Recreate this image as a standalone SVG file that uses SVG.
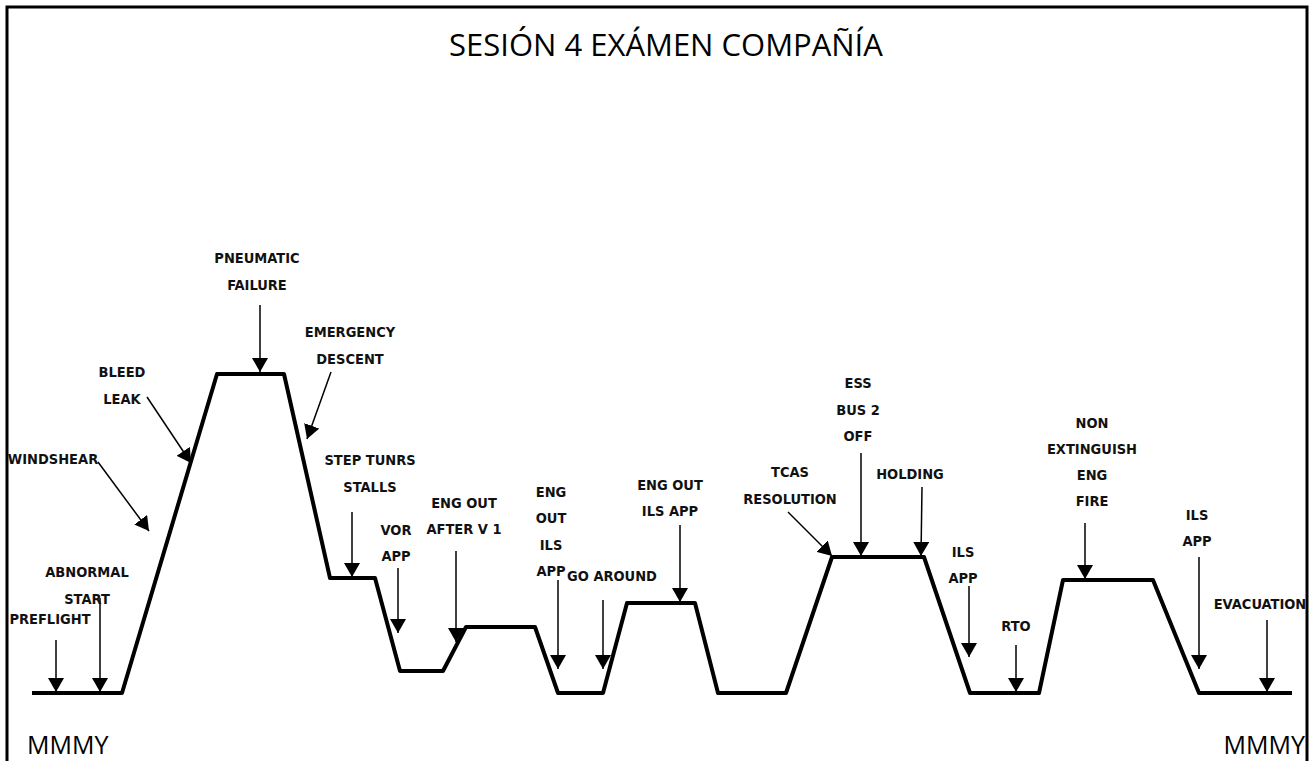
<svg xmlns="http://www.w3.org/2000/svg" width="1312" height="761" viewBox="0 0 1312 761">
<style>
.lbl{font-family:"DejaVu Sans Condensed","Liberation Sans",sans-serif;font-weight:bold;font-size:14.5px;fill:#111;text-anchor:middle}
.arr{stroke:#000;stroke-width:1.5;fill:none;marker-end:url(#ah)}
.prof{stroke:#000;stroke-width:4;fill:none;stroke-linejoin:round}
.big{font-family:"Open Sans","Noto Sans",sans-serif;fill:#000}
</style>
<defs>
<marker id="ah" viewBox="0 0 14 16" refX="14" refY="8" markerWidth="14" markerHeight="16" markerUnits="userSpaceOnUse" orient="auto">
<path d="M0,0 L14,8 L0,16 z" fill="#000"/>
</marker>
</defs>
<rect x="0" y="0" width="1312" height="761" fill="#fff"/>
<rect x="7" y="7" width="1300" height="760" fill="none" stroke="#000" stroke-width="3"/>
<text class="big" x="666" y="56" font-size="31" text-anchor="middle">SESIÓN 4 EXÁMEN COMPAÑÍA</text>
<text class="big" x="27" y="754" font-size="25">MMMY</text>
<text class="big" x="1305" y="754" font-size="25" text-anchor="end">MMMY</text>

<g id="profile">
<polyline class="prof" points="32,693 122,693 217,374 284,374 330,578 375,578 400,671 443,671 466,627 535,627 558,693 603,693 627,603 695,603 718,693 786,693 832,557 924,557 970,693 1039,693 1063,580 1153,580 1199,693 1292,693"/>
</g>

<g id="connectors">
<line class="arr" x1="56" y1="640" x2="56" y2="692"/>
<line class="arr" x1="100" y1="598" x2="100" y2="692"/>
<line class="arr" x1="98" y1="462" x2="149" y2="531"/>
<line class="arr" x1="147" y1="397" x2="191" y2="463"/>
<line class="arr" x1="260" y1="305" x2="260" y2="372"/>
<line class="arr" x1="331" y1="372" x2="307" y2="439"/>
<line class="arr" x1="352" y1="512" x2="352" y2="577"/>
<line class="arr" x1="398" y1="568" x2="398" y2="633"/>
<line class="arr" x1="456" y1="551" x2="456" y2="642"/>
<line class="arr" x1="558" y1="580" x2="558" y2="669"/>
<line class="arr" x1="603" y1="600" x2="603" y2="669"/>
<line class="arr" x1="680" y1="525" x2="680" y2="602"/>
<line class="arr" x1="788" y1="512" x2="832" y2="556"/>
<line class="arr" x1="861" y1="453" x2="861" y2="556"/>
<line class="arr" x1="922" y1="487" x2="921" y2="556"/>
<line class="arr" x1="969" y1="586" x2="969" y2="657"/>
<line class="arr" x1="1016" y1="645" x2="1016" y2="692"/>
<line class="arr" x1="1085" y1="523" x2="1085" y2="579"/>
<line class="arr" x1="1199" y1="557" x2="1199" y2="669"/>
<line class="arr" x1="1267" y1="620" x2="1267" y2="692"/>
</g>

<g id="n-preflight"><text class="lbl" x="50" y="624">PREFLIGHT</text></g>
<g id="n-abnormal"><text class="lbl" x="87" y="577">ABNORMAL</text><text class="lbl" x="87" y="604">START</text></g>
<g id="n-windshear"><text class="lbl" x="53" y="464">WINDSHEAR</text></g>
<g id="n-bleed"><text class="lbl" x="122" y="377">BLEED</text><text class="lbl" x="122" y="404">LEAK</text></g>
<g id="n-pneumatic"><text class="lbl" x="257" y="263">PNEUMATIC</text><text class="lbl" x="257" y="290">FAILURE</text></g>
<g id="n-emergency"><text class="lbl" x="350" y="337">EMERGENCY</text><text class="lbl" x="350" y="364">DESCENT</text></g>
<g id="n-step"><text class="lbl" x="370" y="465">STEP TUNRS</text><text class="lbl" x="370" y="492">STALLS</text></g>
<g id="n-vor"><text class="lbl" x="396" y="535">VOR</text><text class="lbl" x="396" y="561">APP</text></g>
<g id="n-engout1"><text class="lbl" x="464" y="508">ENG OUT</text><text class="lbl" x="464" y="534">AFTER V 1</text></g>
<g id="n-engout2"><text class="lbl" x="551" y="497">ENG</text><text class="lbl" x="551" y="523">OUT</text><text class="lbl" x="551" y="550">ILS</text><text class="lbl" x="551" y="576">APP</text></g>
<g id="n-goaround"><text class="lbl" x="612" y="581">GO AROUND</text></g>
<g id="n-engout3"><text class="lbl" x="670" y="490">ENG OUT</text><text class="lbl" x="670" y="516">ILS APP</text></g>
<g id="n-tcas"><text class="lbl" x="790" y="477">TCAS</text><text class="lbl" x="790" y="504">RESOLUTION</text></g>
<g id="n-ess"><text class="lbl" x="858" y="388">ESS</text><text class="lbl" x="858" y="415">BUS 2</text><text class="lbl" x="858" y="441">OFF</text></g>
<g id="n-holding"><text class="lbl" x="910" y="479">HOLDING</text></g>
<g id="n-ils1"><text class="lbl" x="963" y="557">ILS</text><text class="lbl" x="963" y="583">APP</text></g>
<g id="n-rto"><text class="lbl" x="1016" y="631">RTO</text></g>
<g id="n-fire"><text class="lbl" x="1092" y="428">NON</text><text class="lbl" x="1092" y="454">EXTINGUISH</text><text class="lbl" x="1092" y="480">ENG</text><text class="lbl" x="1092" y="506">FIRE</text></g>
<g id="n-ils2"><text class="lbl" x="1197" y="520">ILS</text><text class="lbl" x="1197" y="546">APP</text></g>
<g id="n-evac"><text class="lbl" x="1260" y="609">EVACUATION</text></g>
</svg>
